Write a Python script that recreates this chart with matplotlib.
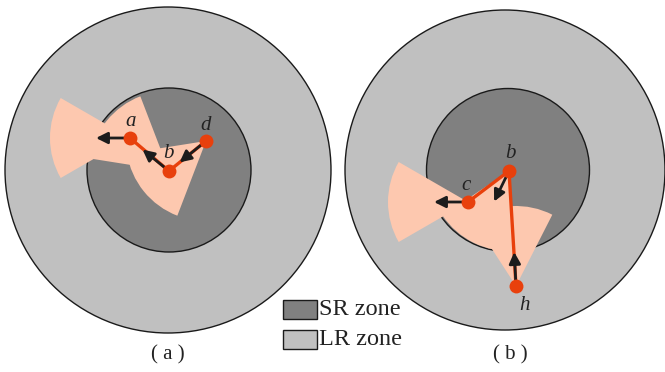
import matplotlib
matplotlib.use("Agg")
import matplotlib.pyplot as plt
from matplotlib.patches import Circle, Wedge, Rectangle
import numpy as np

plt.rcParams['font.family'] = ['Liberation Serif', 'DejaVu Serif']

# zone geometry of both panels (pixel units, y up)
outer_centers = [(168, 202), (505, 202)]
outer_radii = [163, 160]
inner_centers = [(169, 202), (508, 202)]
inner_radii = [82, 81.5]
panel_titles = ['( a )', '( b )']

# panel (a): node positions, headings (deg) and whether a sector is drawn
a_names = ['a', 'b', 'd']
a_x = [130, 169, 206]
a_y = [234, 201, 231]
a_heading = [180, 141, 219]
a_sector = [True, True, True]
a_label_dx = [1, -1, 0]
a_label_dy = [16, 17, 15]
a_path = ['a', 'b', 'd']

# panel (b)
b_names = ['b', 'c', 'h']
b_x = [509, 468, 516]
b_y = [201, 170, 86]
b_heading = [244, 180, 93]
b_sector = [True, True, True]
b_label_dx = [1, -2, 9]
b_label_dy = [18, 16, -19]
b_path = ['c', 'b', 'h']

legend_labels = ['SR zone', 'LR zone']

LR_COLOR = '#c0c0c0'
SR_COLOR = '#808080'
PINK = '#fdc8af'
RED = '#e8400c'
ARROW = '#1c1c1c'
SECTOR_R = 80
HALF_ANGLE = 30
ARROW_LEN = 34

fig = plt.figure(figsize=(6.65, 3.72), dpi=100)
ax = fig.add_axes([0, 0, 1, 1])
ax.set_xlim(0, 665)
ax.set_ylim(0, 372)
ax.axis('off')

panels = [
    (a_names, a_x, a_y, a_heading, a_sector, a_label_dx, a_label_dy, a_path),
    (b_names, b_x, b_y, b_heading, b_sector, b_label_dx, b_label_dy, b_path),
]

for i, (names, xs, ys, heads, secs, ldx, ldy, path) in enumerate(panels):
    ax.add_patch(Circle(outer_centers[i], outer_radii[i], facecolor=LR_COLOR,
                        edgecolor='#1a1a1a', lw=1.0, zorder=1))
    ax.add_patch(Circle(inner_centers[i], inner_radii[i], facecolor=SR_COLOR,
                        edgecolor='#1a1a1a', lw=1.0, zorder=2))
    for x, y, h, s in zip(xs, ys, heads, secs):
        if s:
            ax.add_patch(Wedge((x, y), SECTOR_R, h - HALF_ANGLE, h + HALF_ANGLE,
                               facecolor=PINK, edgecolor='none', zorder=3))
    idx = [names.index(n) for n in path]
    ax.plot([xs[k] for k in idx], [ys[k] for k in idx], color=RED, lw=2.4,
            solid_capstyle='round', zorder=4)
    for x, y, h in zip(xs, ys, heads):
        tip = (x + ARROW_LEN * np.cos(np.radians(h)), y + ARROW_LEN * np.sin(np.radians(h)))
        ax.annotate('', xy=tip, xytext=(x, y),
                    arrowprops=dict(arrowstyle='-|>', color=ARROW, lw=2,
                                    mutation_scale=17, shrinkA=0, shrinkB=0),
                    zorder=5)
    ax.plot(xs, ys, 'o', color=RED, markersize=10, markeredgewidth=0, zorder=6)
    for n, x, y, dx, dy in zip(names, xs, ys, ldx, ldy):
        ax.text(x + dx, y + dy, n, fontsize=15, fontstyle='italic', color='#222222',
                ha='center', va='center', zorder=7)
    ax.text(outer_centers[i][0] + (0 if i == 0 else 5), 17, panel_titles[i],
            fontsize=15, ha='center', va='center', color='#222222')

# zone legend
for j, (lab, col) in enumerate(zip(legend_labels, [SR_COLOR, LR_COLOR])):
    y0 = 53 - 30 * j
    ax.add_patch(Rectangle((283, y0), 34, 19, facecolor=col, edgecolor='#1a1a1a',
                           lw=1.0, zorder=8))
    ax.text(319, y0 + 9.5, lab, fontsize=17.5, ha='left', va='center', color='#222222')

fig.savefig('out.png', dpi=100)
